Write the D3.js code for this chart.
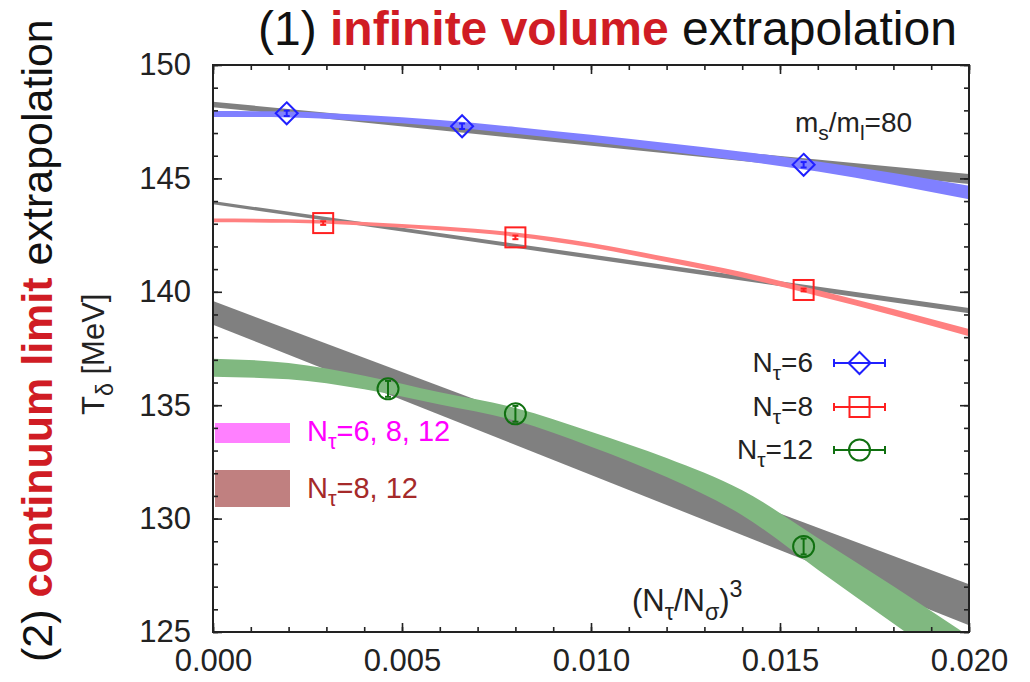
<!DOCTYPE html>
<html>
<head>
<meta charset="utf-8">
<script src="https://cdn.jsdelivr.net/npm/d3@7"></script>
<style>
  body { margin: 0; background: #fff; }
  svg { display: block; font-family: "Liberation Sans", Arial, sans-serif; }
  .axis text { font-size: 31px; fill: #222; font-family: "Liberation Sans", Arial, sans-serif; }
  .axis line { stroke: #222; stroke-width: 1.6; }
  .axis path { display: none; }
</style>
</head>
<body>
<svg id="chart" width="1030" height="682"></svg>
<script>
// fit grid for the bands
var gridX = [0, 0.002, 0.004, 0.006, 0.008, 0.010, 0.012, 0.014, 0.016, 0.018, 0.020];

var blueMid  = [147.84, 147.82, 147.66, 147.44, 147.12, 146.76, 146.38, 145.98, 145.52, 144.98, 144.38];
var blueHalf = [0.13, 0.13, 0.13, 0.14, 0.15, 0.16, 0.18, 0.20, 0.22, 0.26, 0.30];

var redMid  = [143.15, 143.12, 143.0, 142.8, 142.52, 142.05, 141.42, 140.75, 139.95, 139.1, 138.2];
var redHalf = [0.08, 0.08, 0.08, 0.09, 0.09, 0.10, 0.11, 0.12, 0.13, 0.14, 0.16];

var greenMid  = [136.65, 136.5, 136.0, 135.3, 134.6, 133.5, 132.25, 130.7, 128.45, 126.2, 123.9];
var greenHalf = [0.40, 0.36, 0.30, 0.27, 0.28, 0.33, 0.42, 0.55, 0.70, 0.82, 0.92];

// linear fits (gray)
var lineX = [0, 0.020];
var gray6Mid = [148.26, 144.97], gray6Half = [0.12, 0.22];
var gray8Mid = [143.93, 139.17], gray8Half = [0.07, 0.12];
var grayContMid = [139.07, 126.2], grayContHalf = [0.52, 0.90];

// data points
var n6X = [0.00195, 0.00659, 0.015625], n6Y = [147.87, 147.30, 145.60], n6Err = [0.12, 0.12, 0.12];
var n8X = [0.002915, 0.008, 0.015625], n8Y = [143.03, 142.40, 140.08], n8Err = [0.08, 0.08, 0.06];
var n12X = [0.00463, 0.008, 0.015625], n12Y = [135.72, 134.62, 128.77], n12Err = [0.35, 0.35, 0.35];

var xMajor = [0, 0.005, 0.010, 0.015, 0.020];
var yMajor = [125, 130, 135, 140, 145, 150];

var svg = d3.select("#chart");
var pLeft = 213, pRight = 969, pTop = 65, pBottom = 632;

var x = d3.scaleLinear().domain([0, 0.02]).range([pLeft, pRight]);
var y = d3.scaleLinear().domain([125, 150]).range([pBottom, pTop]);

svg.append("defs").append("clipPath").attr("id", "plotclip")
  .append("rect").attr("x", pLeft).attr("y", pTop).attr("width", pRight - pLeft).attr("height", pBottom - pTop);

var plot = svg.append("g").attr("clip-path", "url(#plotclip)");

function band(xs, mid, half, color) {
  var rows = xs.map(function(v, i) { return {x: v, lo: mid[i] - half[i], hi: mid[i] + half[i]}; });
  var area = d3.area()
    .x(function(d) { return x(d.x); })
    .y0(function(d) { return y(d.lo); })
    .y1(function(d) { return y(d.hi); })
    .curve(d3.curveMonotoneX);
  plot.append("path").datum(rows).attr("d", area).attr("fill", color);
}

// gray linear fits first
band(lineX, gray6Mid, gray6Half, "#808080");
band(lineX, gray8Mid, gray8Half, "#808080");
band(lineX, grayContMid, grayContHalf, "#808080");
// coloured fits
band(gridX, blueMid, blueHalf, "#8080ff");
band(gridX, redMid, redHalf, "#ff8080");
band(gridX, greenMid, greenHalf, "#80b880");

// legend boxes for continuum
var lg = svg.append("g");
lg.append("rect").attr("x", 215).attr("y", 423).attr("width", 75).attr("height", 20).attr("fill", "#ff80ff");
lg.append("rect").attr("x", 215).attr("y", 470).attr("width", 75).attr("height", 37).attr("fill", "#c08080");

function subText(g, xx, yy, parts, size, color, anchor) {
  var t = g.append("text").attr("x", xx).attr("y", yy)
    .attr("font-size", size).attr("fill", color).attr("text-anchor", anchor || "start");
  parts.forEach(function(p) {
    var ts = t.append("tspan").text(p[0]);
    if (p[1] == "sub") ts.attr("font-size", size * 0.75).attr("dy", size * 0.28);
    else if (p[1] == "sup") ts.attr("font-size", size * 0.75).attr("dy", -size * 0.45);
    else if (p[1] == "back") ts.attr("dy", -size * 0.28);
  });
  return t;
}

subText(lg, 307, 441, [["N"], ["τ", "sub"], ["=6, 8, 12", "back"]], 29, "#ff00ff");
subText(lg, 307, 498, [["N"], ["τ", "sub"], ["=8, 12", "back"]], 29, "#a52a2a");

// axes
function addAxis(axis, tr) {
  return svg.append("g").attr("class", "axis").attr("transform", tr).call(axis);
}
var xMinor = d3.range(0, 21).map(function(i) { return i * 0.001; });
var yMinor = d3.range(125, 151);

addAxis(d3.axisBottom(x).tickValues(xMinor).tickSize(-5).tickFormat(""), "translate(0," + pBottom + ")");
addAxis(d3.axisBottom(x).tickValues(xMajor).tickSize(-9).tickPadding(17).tickFormat(d3.format(".3f")), "translate(0," + pBottom + ")");
addAxis(d3.axisTop(x).tickValues(xMinor).tickSize(-5).tickFormat(""), "translate(0," + pTop + ")");
addAxis(d3.axisTop(x).tickValues(xMajor).tickSize(-9).tickFormat(""), "translate(0," + pTop + ")");
addAxis(d3.axisLeft(y).tickValues(yMinor).tickSize(-5).tickFormat(""), "translate(" + pLeft + ",0)");
addAxis(d3.axisLeft(y).tickValues(yMajor).tickSize(-9).tickPadding(22).tickFormat(d3.format("d")), "translate(" + pLeft + ",0)");
addAxis(d3.axisRight(y).tickValues(yMinor).tickSize(-5).tickFormat(""), "translate(" + pRight + ",0)");
addAxis(d3.axisRight(y).tickValues(yMajor).tickSize(-9).tickFormat(""), "translate(" + pRight + ",0)");

svg.append("rect").attr("x", pLeft).attr("y", pTop).attr("width", pRight - pLeft).attr("height", pBottom - pTop)
  .attr("fill", "none").attr("stroke", "#222").attr("stroke-width", 2);

// points with error bars
var sym = 11;
function marker(g, cx, cy, shape) {
  if (shape == "diamond") {
    g.append("path").attr("d", "M" + cx + "," + (cy - sym) + "L" + (cx + sym) + "," + cy + "L" + cx + "," + (cy + sym) + "L" + (cx - sym) + "," + cy + "Z");
  } else if (shape == "square") {
    g.append("rect").attr("x", cx - 10).attr("y", cy - 10).attr("width", 20).attr("height", 20);
  } else {
    g.append("circle").attr("cx", cx).attr("cy", cy).attr("r", 10.5);
  }
}
function drawPoints(xs, ys, errs, color, shape) {
  var g = svg.append("g").attr("stroke", color).attr("fill", "none").attr("stroke-width", 2);
  xs.forEach(function(v, i) {
    var cx = x(v), cy = y(ys[i]), e1 = y(ys[i] + errs[i]), e2 = y(ys[i] - errs[i]);
    g.append("line").attr("x1", cx).attr("x2", cx).attr("y1", e1).attr("y2", e2);
    g.append("line").attr("x1", cx - 3).attr("x2", cx + 3).attr("y1", e1).attr("y2", e1);
    g.append("line").attr("x1", cx - 3).attr("x2", cx + 3).attr("y1", e2).attr("y2", e2);
    marker(g, cx, cy, shape);
  });
}
drawPoints(n6X, n6Y, n6Err, "#2020ff", "diamond");
drawPoints(n8X, n8Y, n8Err, "#ff2020", "square");
drawPoints(n12X, n12Y, n12Err, "#107010", "circle");

// right legend
var legendRows = [
  {label: "=6", color: "#2020ff", shape: "diamond", yy: 363},
  {label: "=8", color: "#ff2020", shape: "square", yy: 407},
  {label: "=12", color: "#107010", shape: "circle", yy: 450}
];
legendRows.forEach(function(r) {
  subText(svg, 813, r.yy + 9, [["N"], ["τ", "sub"], [r.label, "back"]], 28, "#222", "end");
  var g = svg.append("g").attr("stroke", r.color).attr("fill", "none").attr("stroke-width", 2);
  g.append("line").attr("x1", 834).attr("x2", 885).attr("y1", r.yy).attr("y2", r.yy);
  g.append("line").attr("x1", 834).attr("x2", 834).attr("y1", r.yy - 4).attr("y2", r.yy + 4);
  g.append("line").attr("x1", 885).attr("x2", 885).attr("y1", r.yy - 4).attr("y2", r.yy + 4);
  marker(g, 859.5, r.yy, r.shape);
});

// annotations
subText(svg, 795, 132, [["m"], ["s", "sub"], ["/m", "back"], ["l", "sub"], ["=80", "back"]], 28, "#222");
subText(svg, 632, 611, [["(N"], ["τ", "sub"], ["/N", "back"], ["σ", "sub"], [")", "back"], ["3", "sup"]], 31, "#222");

// y label
svg.append("g").attr("transform", "translate(104,415) rotate(-90)")
  .call(function(g) { subText(g, 0, 0, [["T"], ["δ", "sub"], [" [MeV]", "back"]], 31, "#222"); });

// titles
var title = svg.append("text").attr("x", 258).attr("y", 45).attr("font-size", 48).attr("fill", "#111");
title.append("tspan").text("(1) ");
title.append("tspan").text("infinite volume").attr("font-weight", "bold").attr("fill", "#d01c24");
title.append("tspan").text(" extrapolation");

var side = svg.append("text").attr("transform", "translate(52,662) rotate(-90)").attr("font-size", 43).attr("fill", "#111");
side.append("tspan").text("(2) ");
side.append("tspan").text("continuum limit").attr("font-weight", "bold").attr("fill", "#d01c24");
side.append("tspan").text(" extrapolation");
</script>
</body>
</html>
